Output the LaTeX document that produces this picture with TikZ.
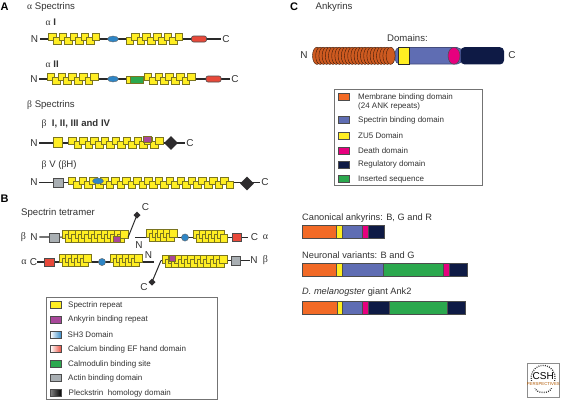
\documentclass[tikz,border=0pt]{standalone}
\usepackage{fontspec}
\setmainfont{Liberation Sans}
\newfontfamily\gk{Liberation Serif}
\usetikzlibrary{calc}
\definecolor{ry}{HTML}{FFEE22}
\definecolor{re}{HTML}{7A7420}
\definecolor{pur}{HTML}{A8479A}
\definecolor{sh}{HTML}{2F86C6}
\definecolor{ef}{HTML}{E8493A}
\definecolor{grn}{HTML}{2BA84E}
\definecolor{gry}{HTML}{A9AFB3}
\definecolor{dia}{HTML}{2E2C2E}
\definecolor{org}{HTML}{F26A26}
\definecolor{blu}{HTML}{5F6DB3}
\definecolor{dp}{HTML}{E6007E}
\definecolor{nav}{HTML}{0E1A45}
\definecolor{bar}{HTML}{2A2A2A}
\tikzset{
 x=1pt,y=-1pt,
 lab/.style={font=\fontsize{9.6}{11}\selectfont,text=black!80,inner sep=0pt},
 labc/.style={font=\fontsize{9.25}{11}\selectfont,text=black!80,inner sep=0pt},
 end/.style={font=\fontsize{10}{11}\selectfont,text=black!80,inner sep=0pt},
 head/.style={font=\bfseries\fontsize{11}{12}\selectfont,inner sep=0pt},
 leg/.style={font=\fontsize{8}{9.6}\selectfont,text=black!80,inner sep=0pt,anchor=west,align=left},
 spine/.style={line width=1.2pt,draw=bar},
 repbox/.style={draw=re,fill=ry,line width=.7pt},
 sw/.style={draw=black!70,line width=.6pt},
 segm/.style={line width=.6pt,draw=black!70},
 frame/.style={draw=black!55,fill=white,line width=.8pt}
}
\def\rh{3.2}
\newcommand{\reps}[6]{%
 \pgfmathsetmacro{\last}{#3-1}%
 \foreach \i in {0,...,\last}{%
  \pgfmathsetmacro{\xx}{#1+\i*#4}%
  \pgfmathsetmacro{\yy}{#2+(mod(\i,2)==0?-2:2)*#6}%
  \draw[repbox] (\xx,\yy-\rh) rectangle (\xx+#5,\yy+\rh);
 }}
\newcommand{\efbox}[3]{\draw[draw=black!70,fill=ef,rounded corners=2pt,line width=.6pt] (#1,#3-3) rectangle (#2,#3+3);}
\newcommand{\shell}[2]{\draw[draw=black!60,fill=sh,line width=.4pt] (#1,#2) ellipse [x radius=5.5,y radius=3];}
\newcommand{\shc}[2]{\draw[draw=black!60,fill=sh,line width=.4pt] (#1,#2) circle [radius=3.6];}
\newcommand{\actin}[2]{\draw[draw=black!70,fill=gry,line width=.6pt] (#1,#2-4.7) rectangle (#1+9.5,#2+4.7);}
\newcommand{\phd}[3]{\fill[dia] (#1-#3,#2) -- (#1,#2-#3) -- (#1+#3,#2) -- (#1,#2+#3) -- cycle;}
\newcommand{\legsw}[3]{\draw[sw,fill=#3] (#1,#2-3.5) rectangle (#1+11,#2+3.5);}
\begin{document}
\begin{tikzpicture}
\useasboundingbox (0,0) rectangle (563,400);
\fill[white] (0,0) rectangle (563,400);
% A
\node[head] (pA) at (4.5,7) {A};
\node[lab,anchor=west] (t1) at (27,7.5) {{\gk α} Spectrins};
\node[lab,anchor=west] (t2) at (45.5,22.5) {{\gk α} \textbf{I}};
\node[end] (n1) at (34.5,39) {N};
\node[end] (c1) at (226,39) {C};
\draw[spine] (n1.east)+(1.5,0) -- ($(c1.west)+(-1.5,0)$);
\reps{48.3}{39}{9}{5.45}{7.6}{1}
\reps{126}{39}{10}{5.45}{7.6}{-1}
\shell{113}{39}
\efbox{191.5}{206.5}{39}
\node[lab,anchor=west] (t3) at (45.5,64) {{\gk α} \textbf{II}};
\node[end] (n2) at (34,79) {N};
\node[end] (c2) at (235,79) {C};
\draw[spine] (n2.east)+(1.5,0) -- ($(c2.west)+(-1.5,0)$);
\reps{47}{79}{9}{5.45}{7.6}{1}
\shell{113}{79}
\draw[repbox] (126.5,76) rectangle (131,83);
\draw[draw=re,fill=grn,line width=.6pt] (130,76) rectangle (143,83);
\reps{144}{79}{9}{5.45}{7.6}{1}
\efbox{206}{221}{79}
\node[lab,anchor=west] (t4) at (27,105.5) {{\gk β} Spectrins};
\node[lab,anchor=west] (t5) at (41.5,124) {{\gk β}\ \ \textbf{I, II, III and IV}};
\node[end] (n3) at (34,143) {N};
\node[end] (c3) at (190,143) {C};
\draw[spine] (n3.east)+(1.5,0) -- ($(c3.west)+(-1.5,0)$);
\draw[repbox] (53.5,137.5) rectangle (62.5,147);
\reps{68.5}{143}{17}{5.45}{7.6}{1}
\draw[draw=re,fill=pur,line width=.6pt] (143,136.5) rectangle (151,142);
\phd{171}{143}{6.8}
\node[lab,anchor=west] (t6) at (41.5,165.5) {{\gk β} V ({\gk β}H)};
\node[end] (n4) at (34,182.5) {N};
\node[end] (c4) at (265,182.5) {C};
\draw[spine] (n4.east)+(1.5,0) -- ($(c4.west)+(-1.5,0)$);
\actin{53.5}{183}
\reps{68}{183}{30}{5.45}{7.6}{1}
\shell{98}{181}
\phd{247}{183.5}{6.8}
% B
\def\rh{3.9}
\node[head] (pB) at (4.5,199) {B};
\node[lab,anchor=west] (t7) at (21,213) {Spectrin tetramer};
\node[end] (be1) at (23.5,237) {\gk β};
\node[end] (n5) at (34,237) {N};
\coordinate (e5) at (128,237.5);
\draw[spine] (n5.east)+(1.5,0) -- (e5);
\actin{49.5}{237.5}
\reps{62}{236}{19}{3.25}{7.5}{1}
\draw[draw=re,fill=pur,line width=.6pt] (113.5,236) rectangle (120,241.9);
\coordinate (d1) at (137,215);
\draw[line width=1pt,draw=bar] (e5) -- (d1);
\phd{137}{215}{3.5}
\node[end] (c5) at (145.5,207) {C};
\node[end] (n6) at (139,245.5) {N};
\coordinate (s6) at (135,237.5);
\coordinate (e6) at (248,237.5);
\node[end] (c6) at (254.5,237.5) {C};
\node[end] (al1) at (265.5,237.5) {\gk α};
\draw[spine] (s6) -- (e6);
\reps{146}{235.5}{9}{2.95}{7.5}{1}
\reps{193}{236}{10}{3}{7.5}{1}
\shc{185}{237.5}
\draw[draw=black!70,fill=ef,line width=.6pt] (232.5,233.5) rectangle (241.5,241);
% row 2
\node[end] (al2) at (24,262) {\gk α};
\node[end] (c7) at (33.5,262) {C};
\coordinate (e7) at (154,262);
\draw[spine] (c7.east) -- (e7);
\draw[draw=black!70,fill=ef,line width=.6pt] (44.5,258.5) rectangle (54,266);
\reps{59.5}{260.5}{9}{3}{7.5}{1}
\reps{110.5}{260.5}{9}{3}{7.5}{1}
\shc{102}{262}
\node[end] (n7) at (148.5,255) {N};
\coordinate (s8) at (161,260.5);
\coordinate (d2) at (152,282);
\draw[line width=1pt,draw=bar] (s8) -- (d2);
\phd{152}{282}{3.5}
\node[end] (c8) at (144,287) {C};
\node[end] (n8) at (254,260.5) {N};
\node[end] (be2) at (265.5,260.5) {\gk β};
\draw[spine] (s8) -- (n8.west);
\reps{162}{261}{19}{3.2}{7.5}{1}
\draw[draw=re,fill=pur,line width=.6pt] (169.5,255) rectangle (175,261);
\actin{231}{261}
% Legend B
\draw[frame] (46.5,297.5) rectangle (217,399.5);
\legsw{50.5}{305}{ry}
\node[leg] (l1) at (68,305) {Spectrin repeat};
\legsw{50.5}{319.5}{pur}
\node[leg] (l2) at (68,319.5) {Ankyrin binding repeat};
\draw[sw,left color=white,right color=sh] (50.5,331.5) rectangle (61.5,338.5);
\node[leg] (l3) at (67.5,335) {SH3 Domain};
\draw[sw,left color=white,right color=ef] (50.5,345.5) rectangle (61.5,352.5);
\node[leg] (l4) at (68,349) {Calcium binding EF hand domain};
\legsw{50.5}{364}{grn}
\node[leg] (l5) at (68,364) {Calmodulin binding site};
\legsw{50.5}{378}{gry}
\node[leg] (l6) at (68,378) {Actin binding domain};
\draw[sw,left color=black!50,right color=black] (50.5,389.5) rectangle (61.5,396.5);
\node[leg] (l7) at (68.5,393) {Pleckstrin\ \ homology domain};
% C
\node[head] (pC) at (294,7) {C};
\node[lab,anchor=west] (t8) at (315.5,7.5) {Ankyrins};
\node[lab] (t9) at (407.5,38) {Domains:};
\node[end] (n9) at (304,55) {N};
\node[end] (c9) at (512,55.5) {C};
\draw[line width=.6pt,draw=blu!70!black,fill=blu,rounded corners=5pt] (395,47.5) rectangle (462,64);
\draw[draw=bar,fill=ry,line width=.6pt] (398,47.5) rectangle (409.5,64);
\foreach \i in {0,...,23}{
 \pgfmathsetmacro{\xx}{317+\i*3.2}
 \draw[draw=black!75!org,fill=org!85!black,line width=.4pt] (\xx,55.8) ellipse [x radius=4.5,y radius=8.6];
}
\draw[draw=black!70,fill=dp,line width=.5pt] (454,55.8) ellipse [x radius=6,y radius=8.4];
\fill[nav,rounded corners=4pt] (460.5,47.2) rectangle (504,64.4);
% Legend C
\draw[frame] (334.5,89.5) rectangle (482,185.5);
\legsw{338.5}{97}{org}
\node[leg] (l8) at (358,102) {Membrane binding domain\\(24 ANK repeats)};
\legsw{338.5}{120}{blu}
\node[leg] (l9) at (358,120) {Spectrin binding domain};
\legsw{338.5}{136}{ry}
\node[leg] (l10) at (358,136) {ZU5 Domain};
\legsw{338.5}{150.5}{dp}
\node[leg] (l11) at (358,150.5) {Death domain};
\legsw{338.5}{164.5}{nav}
\node[leg] (l12) at (358,164.5) {Regulatory domain};
\legsw{338.5}{179}{grn}
\node[leg] (l13) at (358,179) {Inserted sequence};
% bars
\node[labc,anchor=west] (t10) at (302,218) {Canonical ankyrins: B, G and R};
\node[labc,anchor=west] (t11) at (302,255.5) {Neuronal variants: B and G};
\node[labc,anchor=west] (t12) at (302,292.5) {\textit{D. melanogster} giant Ank2};
\foreach \a/\b/\c in {302.5/336.5/org,336.5/342/ry,342/362/blu,362/368/dp,368/384/nav}
 \draw[segm,fill=\c] (\a,225.5) rectangle (\b,238);
\foreach \a/\b/\c in {302.5/336.5/org,336.5/342/ry,342/383.5/blu,383.5/443/grn,443/449/dp,449/467/nav}
 \draw[segm,fill=\c] (\a,263.5) rectangle (\b,276);
\foreach \a/\b/\c in {302.5/337.5/org,337.5/342/ry,342/362/blu,362/368/dp,368/389/nav,389/447/grn,447/465/nav}
 \draw[segm,fill=\c] (\a,301.5) rectangle (\b,314);
% logo
\draw[draw=black!45,line width=.7pt] (527,363.5) rectangle (559.5,397);
\draw[line width=1.3pt,dash pattern=on .9pt off 1.3pt,draw=black!80] (531.5,381) arc (165:375:12 and 12.5);
\draw[line width=1.3pt,dash pattern=on .9pt off 1.3pt,draw=black!80] (535,387.5) arc (180:0:8.3 and 5);
\fill[white] (528,381) rectangle (559,387.5);
\node[font=\fontsize{10}{11}\selectfont,inner sep=0pt] (csh) at (543.3,376) {CSH};
\node[font=\fontsize{4.3}{5}\selectfont,text=orange!70!black,inner sep=0pt] (per) at (543.3,384.4) {PERSPECTIVES};
\end{tikzpicture}
\end{document}
